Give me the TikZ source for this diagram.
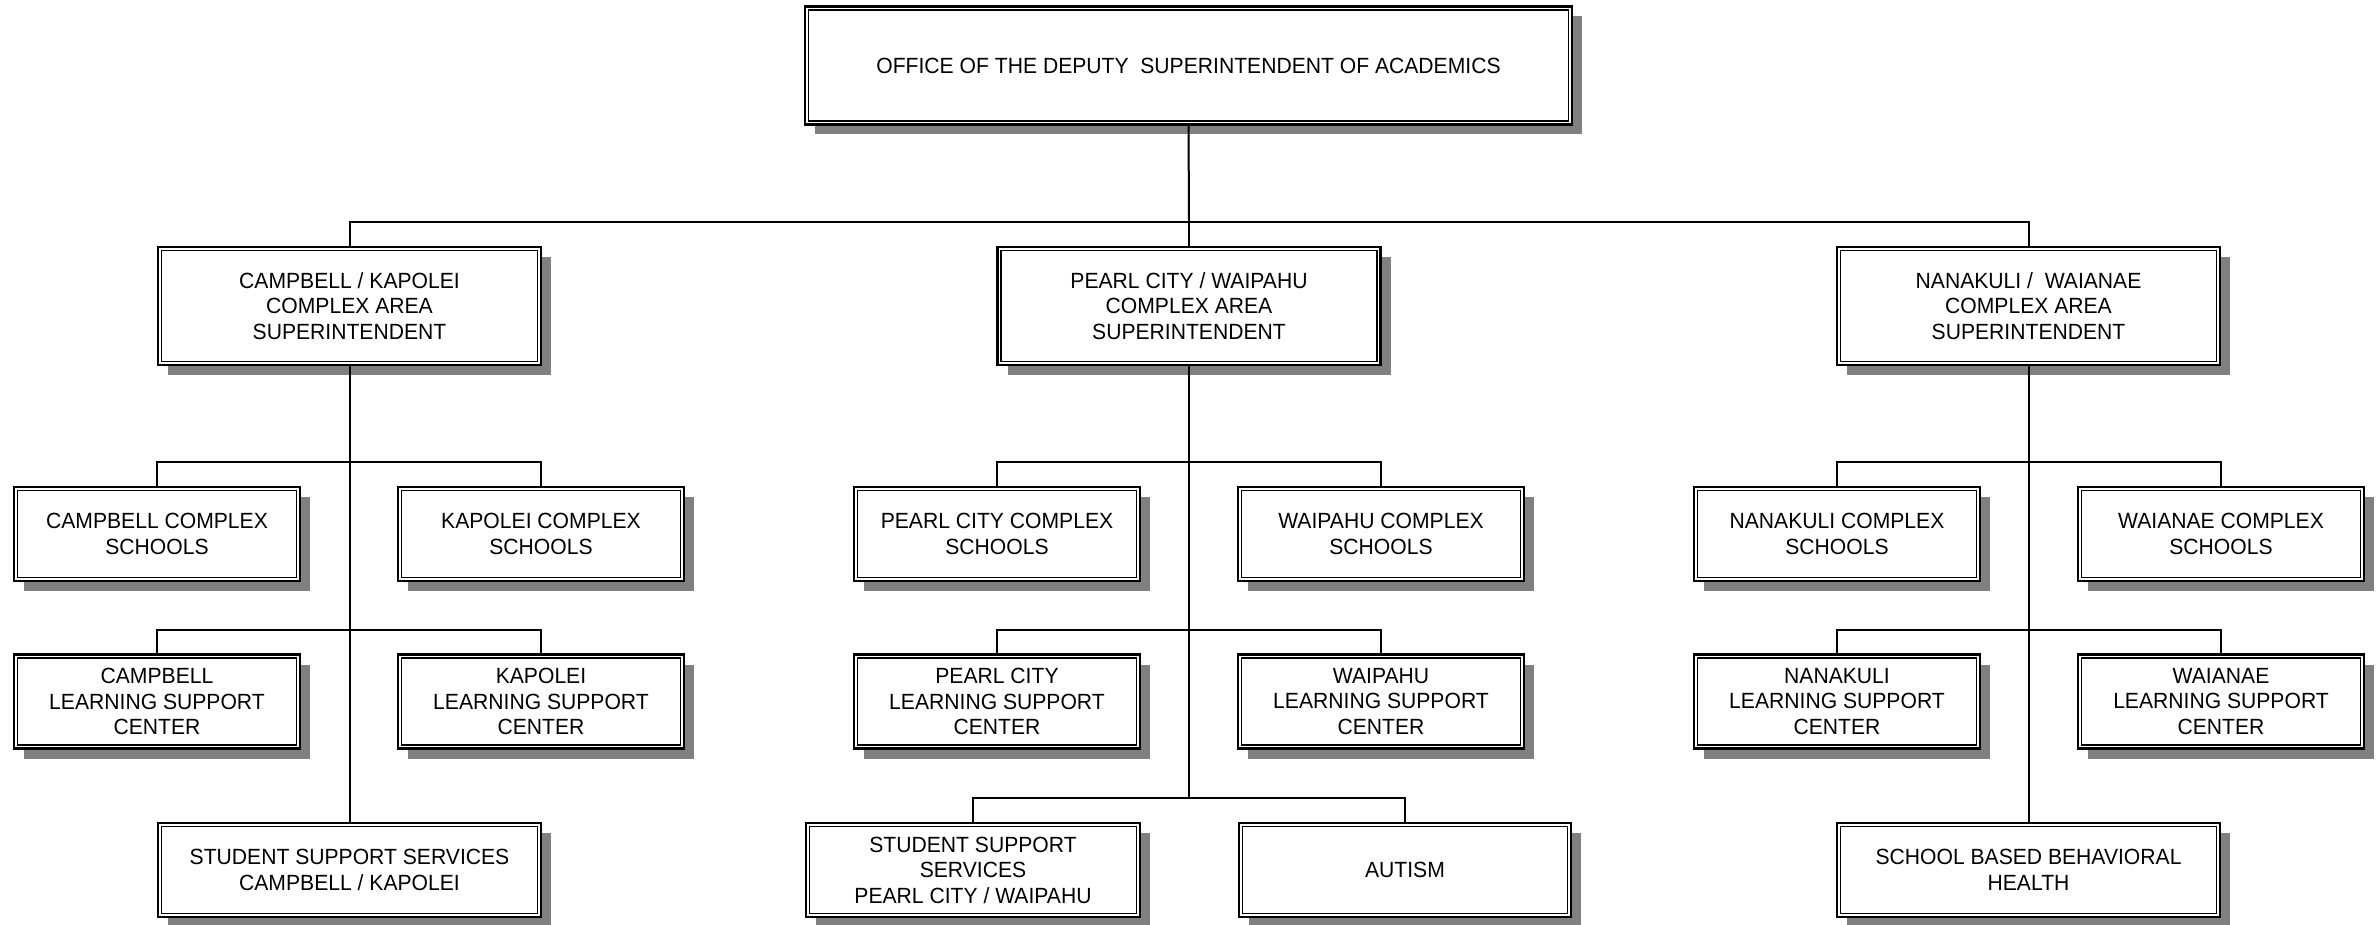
\documentclass[tikz,border=0pt]{standalone}
\usepackage{fontspec}
\setmainfont{Liberation Sans}[FakeStretch=0.96]
\usetikzlibrary{shadows}
\begin{document}
\begin{tikzpicture}[x=1pt,y=-1pt,
  box/.style={draw=black, line width=2.3pt, fill=white, rectangle, align=center,
    inner sep=0pt, font=\fontsize{22}{25.5}\selectfont,
    drop shadow={shadow xshift=10pt, shadow yshift=-10pt, fill=shadowgray, opacity=1}},
  bigbox/.style={box, minimum width=383pt, minimum height=118pt},
  smallbox/.style={box, minimum width=286pt, minimum height=94pt},
  wide/.style={box, minimum height=94pt},
  conn/.style={draw=black, line width=2pt},
  inner/.style={draw=black, line width=1.5pt}]
\definecolor{shadowgray}{HTML}{808080}
\useasboundingbox (0,0) rectangle (2379,925);
\fill[white] (0,0) rectangle (2379,925);

% nodes
\node[box, minimum width=767pt, minimum height=118pt] (top) at (1188.5,65.5) {OFFICE OF THE DEPUTY\ \ SUPERINTENDENT OF ACADEMICS};

\node[bigbox] (ca) at (349.5,306) {CAMPBELL / KAPOLEI\\COMPLEX AREA\\SUPERINTENDENT};
\node[bigbox] (pw) at (1189,306) {PEARL CITY / WAIPAHU\\COMPLEX AREA\\SUPERINTENDENT};
\node[bigbox] (nw) at (2028.5,306) {NANAKULI /\ \ WAIANAE\\COMPLEX AREA\\SUPERINTENDENT};

\node[smallbox] (cacs) at (157,534) {CAMPBELL COMPLEX\\SCHOOLS};
\node[smallbox] (kacs) at (541,534) {KAPOLEI COMPLEX\\SCHOOLS};
\node[smallbox] (pccs) at (997,534) {PEARL CITY COMPLEX\\SCHOOLS};
\node[smallbox] (wpcs) at (1381,534) {WAIPAHU COMPLEX\\SCHOOLS};
\node[smallbox] (nkcs) at (1837,534) {NANAKULI COMPLEX\\SCHOOLS};
\node[smallbox] (wncs) at (2221,534) {WAIANAE COMPLEX\\SCHOOLS};

\node[smallbox] (calc) at (157,701.5) {CAMPBELL\\LEARNING SUPPORT\\CENTER};
\node[smallbox] (kalc) at (541,701.5) {KAPOLEI\\LEARNING SUPPORT\\CENTER};
\node[smallbox] (pclc) at (997,701.5) {PEARL CITY\\LEARNING SUPPORT\\CENTER};
\node[smallbox] (wplc) at (1381,701.5) {WAIPAHU\\LEARNING SUPPORT\\CENTER};
\node[smallbox] (nklc) at (1837,701.5) {NANAKULI\\LEARNING SUPPORT\\CENTER};
\node[smallbox] (wnlc) at (2221,701.5) {WAIANAE\\LEARNING SUPPORT\\CENTER};

\node[wide, minimum width=383pt] (cass) at (349.5,870) {STUDENT SUPPORT SERVICES\\CAMPBELL / KAPOLEI};
\node[wide, minimum width=334pt] (pwss) at (973,870) {STUDENT SUPPORT\\SERVICES\\PEARL CITY / WAIPAHU};
\node[wide, minimum width=332pt] (aut) at (1405,870) {AUTISM};
\node[wide, minimum width=383pt] (sbbh) at (2028.5,870) {SCHOOL BASED BEHAVIORAL\\HEALTH};

% inner border lines
\foreach \n in {top,ca,pw,nw,cacs,kacs,pccs,wpcs,nkcs,wncs,calc,kalc,pclc,wplc,nklc,wnlc,cass,pwss,aut,sbbh}
  \draw[inner] ([xshift=4.8pt,yshift=-4.6pt]\n.north west) rectangle ([xshift=-4.8pt,yshift=4.6pt]\n.south east);

% bus junction points
\coordinate (b1) at (1189,222);
\coordinate (cab2) at (349.5,462);
\coordinate (cab3) at (349.5,630);
\coordinate (pwb2) at (1189,462);
\coordinate (pwb3) at (1189,630);
\coordinate (pwb4) at (1189,798);
\coordinate (nwb2) at (2028.5,462);
\coordinate (nwb3) at (2028.5,630);

% connectors
\draw[conn] (top.south) -- (b1);
\draw[conn] (ca.north) |- (b1) -| (nw.north);
\draw[conn] (b1) -- (pw.north);
\draw[conn] (ca.south) -- (cass.north);
\draw[conn] (pw.south) -- (pwb4);
\draw[conn] (nw.south) -- (sbbh.north);
\draw[conn] (cacs.north) |- (cab2) -| (kacs.north);
\draw[conn] (calc.north) |- (cab3) -| (kalc.north);
\draw[conn] (pccs.north) |- (pwb2) -| (wpcs.north);
\draw[conn] (pclc.north) |- (pwb3) -| (wplc.north);
\draw[conn] (pwss.north) |- (pwb4) -| (aut.north);
\draw[conn] (nkcs.north) |- (nwb2) -| (wncs.north);
\draw[conn] (nklc.north) |- (nwb3) -| (wnlc.north);
\end{tikzpicture}
\end{document}
